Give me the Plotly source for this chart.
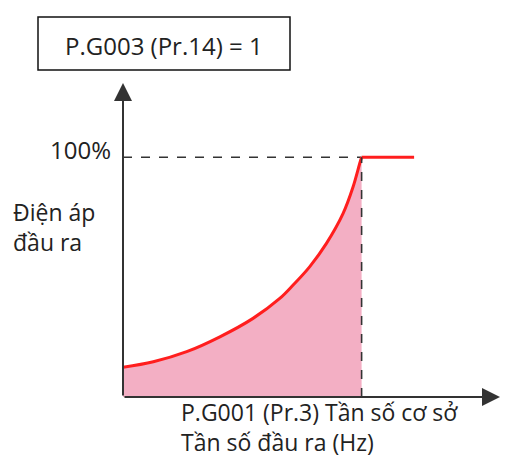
import plotly.graph_objects as go

# Data (x: output frequency in % of base frequency, y: output voltage in %)
curve_x = [0, 12.7, 26.7, 40.6, 54.5, 65.7, 71.3, 78.2, 85.2, 92.2, 96.4, 99.2, 100]
curve_y = [12.4, 14.7, 18.9, 25.1, 32.8, 41.1, 46.7, 54.3, 64.0, 76.5, 87.6, 97.4, 100]
flat_x = [100, 122]
flat_y = [100, 100]
base_freq = 100
full_voltage = 100
title_text = "P.G003 (Pr.14) = 1"
y_label = "Điện áp<br>đầu ra"
y_tick = "100%"
x_label = "P.G001 (Pr.3) Tần số cơ sở<br>Tần số đầu ra (Hz)"

W, H = 505, 459
L, R, T, B = 123, 5, 83, 62
XMAX, YMAX = 158, 131
pw, ph = W - L - R, H - T - B

def px(xp):
    return (xp - L) / pw

def py(yp):
    return (H - B - yp) / ph

FONT = "Open Sans"
fig = go.Figure()
fig.add_trace(go.Scatter(x=curve_x, y=curve_y, mode="lines", fill="tozeroy",
                         fillcolor="#F3AFC4", line=dict(color="#FF1E1E", width=3, shape="spline"),
                         hoverinfo="skip"))
fig.add_trace(go.Scatter(x=flat_x, y=flat_y, mode="lines",
                         line=dict(color="#FF1E1E", width=3), hoverinfo="skip"))

# dashed guide lines
fig.add_shape(type="line", x0=0, x1=base_freq, y0=full_voltage, y1=full_voltage,
              line=dict(color="#333", width=1.6, dash="dash"), layer="below")
fig.add_shape(type="line", x0=base_freq, x1=base_freq, y0=0, y1=full_voltage,
              line=dict(color="#333", width=1.6, dash="dash"), layer="above")

# axes with arrowheads
fig.add_annotation(x=XMAX, y=0, ax=0, ay=0, xref="x", yref="y", axref="x", ayref="y",
                   showarrow=True, arrowhead=2, arrowsize=1.8, arrowwidth=2,
                   arrowcolor="#333", text="")
fig.add_annotation(x=0, y=YMAX, ax=0, ay=0, xref="x", yref="y", axref="x", ayref="y",
                   showarrow=True, arrowhead=2, arrowsize=1.8, arrowwidth=2,
                   arrowcolor="#333", text="")

# title box
fig.add_shape(type="rect", xref="paper", yref="paper", x0=px(38), x1=px(290),
              y0=py(70), y1=py(17), line=dict(color="#111", width=1.5))

def label(text, xp, yp, xanchor, size):
    fig.add_annotation(xref="paper", yref="paper", x=px(xp), y=py(yp), text=text,
                       showarrow=False, xanchor=xanchor, yanchor="middle", align="left",
                       borderpad=0, font=dict(family=FONT, size=size, color="#222"))

label(title_text, 164, 45, "center", 24)
label(y_tick, 112, 149, "right", 24)
label(y_label, 12, 227, "left", 23)
label(x_label, 180, 427, "left", 23)

fig.update_layout(width=W, height=H, margin=dict(l=L, r=R, t=T, b=B),
                  paper_bgcolor="white", plot_bgcolor="white", showlegend=False)
fig.update_xaxes(range=[0, XMAX], visible=False, fixedrange=True)
fig.update_yaxes(range=[0, YMAX], visible=False, fixedrange=True)
fig.write_html("out.html", config={"displayModeBar": False},
               post_script="document.body.style.margin='0';document.body.style.overflow='hidden';")
